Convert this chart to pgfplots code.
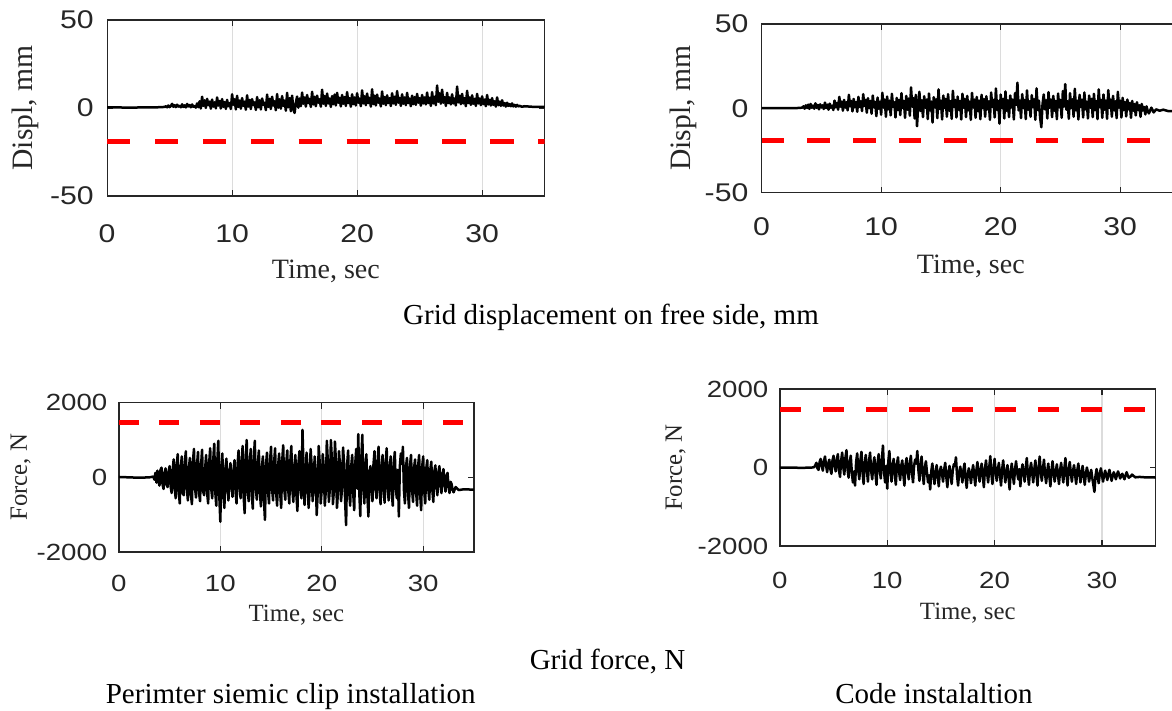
\documentclass[border=0pt]{standalone}
\usepackage{fontspec}
\setmainfont{Liberation Serif}
\newfontfamily\tickfont[FakeStretch=1.18]{Liberation Sans}
\usepackage{pgfplots}
\pgfplotsset{compat=1.18}
\definecolor{axgray}{HTML}{262626}
\definecolor{gridgray}{HTML}{DCDCDC}
\pgfplotsset{
  panel/.style={
    scale only axis, anchor=south west,
    xmin=0, xmax=35, xtick={0,10,20,30}, xticklabels={0,10,20,30},
    axis line style={axgray, line width=0.6pt},
    tick style={axgray, line width=0.6pt},
    major tick length=3pt, tick align=inside,
    xmajorgrids, grid style={gridgray, line width=0.6pt},
    xticklabel style={anchor=center, text=axgray},
    yticklabel style={anchor=east, inner sep=0pt, text=axgray},
    xlabel style={anchor=base, text=black!85},
    ylabel style={anchor=base, text=black!85},
    xlabel={Time, sec},
  },
  toptick/.style={tick label style={font=\tickfont\fontsize{12.8}{14}\selectfont},
    xlabel style={font=\fontsize{14}{16}\selectfont},
    ylabel style={font=\fontsize{14.8}{16}\selectfont}},
  bottick/.style={tick label style={font=\tickfont\fontsize{11.7}{13}\selectfont},
    label style={font=\fontsize{12.4}{14}\selectfont}},
  sig/.style={black, line width=1.25pt, line join=round},
  thr/.style={red, line width=2.5pt},
}
\begin{document}
\begin{tikzpicture}
% ---------- top left: displacement, perimeter clip ----------
\begin{axis}[panel, toptick, at={(53.55pt,-98pt)}, width=218.75pt, height=88pt,
  ymin=-50, ymax=50, ytick={-50,0,50}, yticklabels={-50,0,50}, ylabel={Displ, mm},
  xticklabel style={yshift=-18.65pt}, yticklabel style={xshift=-6.5pt},
  xlabel style={at={(axis description cs:0.5,-0.469)}},
  ylabel style={at={(axis description cs:-0.171,0.5)}}]
\addplot[sig] coordinates {
(0,0.3) (1,0.3) (2,0.2) (3,0.4) (4,0.4)
(4.6,0.6) (4.7,1.0) (4.8,0.4) (4.9,1.4) (5.0,0.5) (5.1,1.1) (5.2,2.4) (5.3,0.7) (5.4,1.6) (5.5,0.5) (5.6,1.9) (5.7,0.8) (5.8,1.3) (5.9,0.4)
(6.0,2.1) (6.1,0.6) (6.2,1.5) (6.3,0.3) (6.4,2.3) (6.5,0.9) (6.6,1.7) (6.7,0.4) (6.8,2.0) (6.9,0.7) (7.0,1.2) (7.1,0.2) (7.2,2.6) (7.3,0.5)
(7.4,3.8) (7.5,-0.3) (7.6,6.4) (7.7,1.2) (7.8,4.4) (7.9,0.0) (8.0,5.2) (8.1,1.6) (8.2,3.6) (8.3,-0.4) (8.4,4.8) (8.5,0.8) (8.6,3.2) (8.7,-0.2)
(8.8,6.0) (8.9,1.4) (9.0,4.0) (9.1,-0.3) (9.2,5.1) (9.3,0.6) (9.4,3.4) (9.5,-0.5) (9.6,4.6) (9.7,1.0) (9.8,2.8) (9.9,-0.6)
(10.0,7.8) (10.1,1.8) (10.2,5.0) (10.3,-0.8) (10.4,6.9) (10.5,0.6) (10.6,4.2) (10.7,-0.4) (10.8,5.6) (10.9,1.2) (11.0,3.6) (11.1,-1.0)
(11.2,7.2) (11.3,0.8) (11.4,4.6) (11.5,-0.6) (11.6,5.0) (11.7,1.6) (11.8,3.2) (11.9,-1.1) (12.0,6.2) (12.1,0.4) (12.2,4.4) (12.3,-0.8)
(12.4,5.4) (12.5,1.8) (12.6,3.0) (12.7,-1.2) (12.8,7.6) (12.9,0.6) (13.0,5.2) (13.1,-0.6) (13.2,6.4) (13.3,1.4) (13.4,3.8) (13.5,-1.3)
(13.6,7.9) (13.7,0.2) (13.8,5.0) (13.9,-0.4) (14.0,6.8) (14.1,1.2) (14.2,4.2) (14.3,-1.5) (14.4,8.6) (14.5,0.4) (14.6,5.6) (14.7,-1.8)
(14.8,7.0) (14.9,-0.6) (15.0,-2.8) (15.1,3.0) (15.2,6.5) (15.3,0.2) (15.4,5.4) (15.5,1.0) (15.6,8.8) (15.7,2.4) (15.8,6.0) (15.9,0.8)
(16.0,7.4) (16.1,2.8) (16.2,5.2) (16.3,0.6) (16.4,9.2) (16.5,2.0) (16.6,6.4) (16.7,1.0) (16.8,7.0) (16.9,3.0) (17.0,5.0) (17.1,0.8)
(17.2,10.4) (17.3,2.4) (17.4,6.8) (17.5,1.2) (17.6,8.2) (17.7,2.6) (17.8,5.4) (17.9,0.6) (18.0,6.8) (18.1,2.2) (18.2,7.6) (18.3,1.4)
(18.4,8.6) (18.5,3.0) (18.6,5.8) (18.7,0.9) (18.8,7.4) (18.9,2.4) (19.0,6.2) (19.1,1.2) (19.2,9.0) (19.3,2.8) (19.4,5.6) (19.5,0.7)
(19.6,7.8) (19.7,2.2) (19.8,6.0) (19.9,1.4) (20.0,8.4) (20.1,3.0) (20.2,5.4) (20.3,1.0) (20.4,10.0) (20.5,2.6) (20.6,6.6) (20.7,1.6)
(20.8,8.2) (20.9,2.8) (21.0,5.8) (21.1,0.8) (21.2,10.6) (21.3,2.2) (21.4,7.0) (21.5,1.4) (21.6,7.6) (21.7,3.0) (21.8,5.4) (21.9,0.9)
(22.0,9.4) (22.1,2.4) (22.2,6.2) (22.3,1.6) (22.4,7.2) (22.5,2.8) (22.6,5.6) (22.7,1.1) (22.8,8.4) (22.9,2.6) (23.0,6.4) (23.1,1.8)
(23.2,9.6) (23.3,3.0) (23.4,5.8) (23.5,1.2) (23.6,7.8) (23.7,2.4) (23.8,6.0) (23.9,1.6) (24.0,8.6) (24.1,2.8) (24.2,5.4) (24.3,1.0)
(24.4,7.0) (24.5,2.2) (24.6,6.2) (24.7,1.8) (24.8,8.0) (24.9,3.0) (25.0,5.6) (25.1,1.3) (25.2,7.4) (25.3,2.6) (25.4,6.0) (25.5,2.0)
(25.6,8.8) (25.7,2.8) (25.8,5.8) (25.9,1.2) (26.0,9.0) (26.1,2.6) (26.2,6.4) (26.3,1.6) (26.4,12.8) (26.5,3.6) (26.6,8.4) (26.7,2.4)
(26.8,10.4) (26.9,3.0) (27.0,6.2) (27.1,1.2) (27.2,8.6) (27.3,2.8) (27.4,6.0) (27.5,2.0) (27.6,7.8) (27.7,2.6) (27.8,5.4) (27.9,1.4)
(28.0,12.2) (28.1,3.2) (28.2,7.0) (28.3,2.2) (28.4,8.0) (28.5,2.6) (28.6,5.6) (28.7,1.0) (28.8,9.8) (28.9,2.8) (29.0,6.0) (29.1,1.8)
(29.2,7.2) (29.3,2.4) (29.4,5.2) (29.5,1.2) (29.6,8.0) (29.7,2.6) (29.8,5.4) (29.9,1.6) (30.0,6.6) (30.1,2.2) (30.2,4.8) (30.3,1.0)
(30.4,7.4) (30.5,2.0) (30.6,4.6) (30.7,1.4) (30.8,5.6) (30.9,1.8) (31.0,3.8) (31.1,0.8) (31.2,6.0) (31.3,1.6) (31.4,3.6) (31.5,1.2)
(31.6,4.4) (31.7,1.4) (31.8,2.8) (31.9,0.8) (32.0,3.0) (32.1,1.2) (32.2,2.2) (32.3,1.0) (32.4,2.6) (32.5,0.9) (32.6,1.8) (32.7,0.8)
(32.8,1.8) (32.9,0.9) (33.0,1.2) (33.2,0.7) (33.4,1.0) (34,0.7) (35,0.7)
};
\addplot[thr, dash pattern=on 11.6pt off 12.35pt] coordinates {(0,-19) (35,-19)};
\end{axis}
% ---------- top right: displacement, code ----------
\begin{axis}[panel, toptick, at={(380.8pt,-96.35pt)}, width=209.2pt, height=84.35pt,
  ymin=-50, ymax=50, ytick={-50,0,50}, yticklabels={-50,0,50}, ylabel={Displ, mm},
  xticklabel style={yshift=-17pt}, yticklabel style={xshift=-6.4pt},
  xlabel style={at={(axis description cs:0.5,-0.476)}},
  ylabel style={at={(axis description cs:-0.169,0.5)}}]
\addplot[sig] coordinates {
(0,0.2) (1,0.2) (2,0.1) (3,0.2) (3.4,0.4)
(3.5,1.2) (3.6,-0.2) (3.7,1.8) (3.8,0.2) (3.9,2.2) (4.0,-0.3) (4.1,2.6) (4.2,0.4) (4.3,1.6) (4.4,-0.2) (4.5,3.0) (4.6,0.3) (4.7,2.0)
(4.8,-0.6) (4.9,2.4) (5.0,0.5) (5.1,1.8) (5.2,-0.4) (5.3,3.4) (5.4,0.2) (5.5,2.2) (5.6,-0.8) (5.7,2.8) (5.8,0.4) (5.9,1.6) (6.0,-1.0)
(6.1,4.6) (6.2,0.6) (6.3,3.2) (6.4,-0.8) (6.5,6.8) (6.6,1.0) (6.7,4.0) (6.8,-1.4) (6.9,5.0) (7.0,0.4) (7.1,3.6) (7.2,-1.2) (7.3,8.0)
(7.4,1.2) (7.5,4.4) (7.6,-1.8) (7.7,5.6) (7.8,0.6) (7.9,3.8) (8.0,-2.0) (8.1,6.8) (8.2,0.8) (8.3,4.2) (8.4,-1.6) (8.5,8.4) (8.6,1.4)
(8.7,5.0) (8.8,-2.6) (8.9,6.0) (9.0,0.2) (9.1,4.4) (9.2,-3.2) (9.3,7.6) (9.4,0.6) (9.5,3.8) (9.6,-4.6) (9.7,6.4) (9.8,-0.2) (9.9,4.0)
(10.0,-3.8) (10.1,9.2) (10.2,0.4) (10.3,5.2) (10.4,-5.0) (10.5,7.0) (10.6,-0.6) (10.7,4.6) (10.8,-4.2) (10.9,8.6) (11.0,0.8) (11.1,3.6)
(11.2,-5.4) (11.3,6.2) (11.4,-1.0) (11.5,5.0) (11.6,-4.0) (11.7,9.0) (11.8,0.2) (11.9,4.4) (12.0,-5.6) (12.1,7.4) (12.2,-0.8) (12.3,5.8)
(12.4,-4.4) (12.5,12.4) (12.6,1.0) (12.7,6.0) (12.8,-6.0) (12.9,8.0) (13.0,-10.6) (13.1,2.0) (13.2,9.8) (13.3,-1.6) (13.4,4.8) (13.5,-5.2)
(13.6,7.2) (13.7,0.4) (13.8,5.2) (13.9,-6.4) (14.0,8.8) (14.1,-1.2) (14.2,4.0) (14.3,-8.4) (14.4,6.6) (14.5,0.6) (14.6,5.4) (14.7,-5.8)
(14.8,11.2) (14.9,-0.4) (15.0,4.6) (15.1,-6.6) (15.2,7.6) (15.3,0.2) (15.4,5.6) (15.5,-5.0) (15.6,8.4) (15.7,-1.4) (15.8,4.2) (15.9,-6.2)
(16.0,10.4) (16.1,0.8) (16.2,5.0) (16.3,-5.4) (16.4,7.0) (16.5,-0.8) (16.6,4.4) (16.7,-6.6) (16.8,8.6) (16.9,0.4) (17.0,5.6) (17.1,-5.2)
(17.2,7.4) (17.3,-1.2) (17.4,4.0) (17.5,-6.8) (17.6,9.2) (17.7,0.6) (17.8,5.2) (17.9,-5.6) (18.0,6.8) (18.1,-1.6) (18.2,4.6) (18.3,-6.4)
(18.4,8.0) (18.5,0.2) (18.6,5.4) (18.7,-5.0) (18.8,7.2) (18.9,-0.6) (19.0,4.2) (19.1,-6.8) (19.2,9.4) (19.3,0.8) (19.4,5.0) (19.5,-5.4)
(19.6,11.8) (19.7,-1.0) (19.8,4.4) (19.9,-9.0) (20.0,8.2) (20.1,0.4) (20.2,5.6) (20.3,-6.0) (20.4,10.0) (20.5,-1.4) (20.6,4.8) (20.7,-5.2)
(20.8,7.6) (20.9,0.6) (21.0,5.2) (21.1,-6.6) (21.2,9.0) (21.3,2.0) (21.4,15.2) (21.5,-1.2) (21.6,4.6) (21.7,-5.8) (21.8,8.4) (21.9,0.2)
(22.0,5.0) (22.1,-6.4) (22.2,10.6) (22.3,-0.8) (22.4,4.2) (22.5,-5.0) (22.6,7.8) (22.7,0.8) (22.8,5.4) (22.9,-6.8) (23.0,11.8) (23.1,-1.0)
(23.2,4.6) (23.3,-5.6) (23.4,-11.2) (23.5,2.4) (23.6,8.2) (23.7,-0.6) (23.8,4.8) (23.9,-6.0) (24.0,9.6) (24.1,0.4) (24.2,5.2) (24.3,-5.2)
(24.4,7.4) (24.5,-1.4) (24.6,4.4) (24.7,-6.4) (24.8,8.8) (24.9,0.6) (25.0,5.0) (25.1,-5.6) (25.2,10.2) (25.3,1.0) (25.4,14.4) (25.5,-0.8)
(25.6,4.2) (25.7,-6.2) (25.8,9.0) (25.9,0.2) (26.0,5.4) (26.1,-5.0) (26.2,11.6) (26.3,-1.2) (26.4,4.6) (26.5,-6.6) (26.6,8.0) (26.7,0.8)
(26.8,5.2) (26.9,-5.4) (27.0,9.4) (27.1,-0.6) (27.2,4.0) (27.3,-6.0) (27.4,7.6) (27.5,0.4) (27.6,5.6) (27.7,-5.2) (27.8,8.6) (27.9,-1.0)
(28.0,4.4) (28.1,-6.4) (28.2,11.2) (28.3,0.6) (28.4,5.0) (28.5,-5.6) (28.6,8.2) (28.7,-0.8) (28.8,4.6) (28.9,-6.2) (29.0,10.8) (29.1,0.2)
(29.2,5.2) (29.3,-5.0) (29.4,7.4) (29.5,-1.2) (29.6,4.2) (29.7,-5.8) (29.8,9.8) (29.9,0.4) (30.0,4.6) (30.1,-5.4) (30.2,6.2) (30.3,-1.0)
(30.4,3.8) (30.5,-4.8) (30.6,5.2) (30.7,-0.6) (30.8,3.2) (30.9,-5.6) (31.0,4.4) (31.1,-1.4) (31.2,2.6) (31.3,-4.2) (31.4,3.6) (31.5,-1.0)
(31.6,1.8) (31.7,-5.0) (31.8,2.6) (31.9,-1.2) (32.0,0.8) (32.1,-3.6) (32.2,1.2) (32.3,-1.6) (32.4,-3.0) (32.6,0.4) (32.8,-2.4) (33.0,-0.6)
(33.3,-1.4) (33.6,-0.8) (34,-1.6) (35,-1.8)
};
\addplot[thr, dash pattern=on 11.3pt off 11.55pt] coordinates {(0,-19) (35,-19)};
\end{axis}
% ---------- bottom left: force, perimeter clip ----------
\begin{axis}[panel, bottick, at={(59.45pt,-276pt)}, width=177.5pt, height=74.65pt,
  ymin=-2000, ymax=2000, ytick={-2000,0,2000}, yticklabels={-2000,0,2000}, ylabel={Force, N},
  xticklabel style={yshift=-15.65pt}, yticklabel style={xshift=-5.6pt},
  xlabel style={at={(axis description cs:0.5,-0.467)}},
  ylabel style={at={(axis description cs:-0.259,0.5)}}]
\addplot[sig] coordinates {
(0,10) (1,0) (2,-10) (3,0) (3.4,20)
(3.5,-60) (3.6,120) (3.7,-140) (3.8,180) (3.9,-100) (4.0,-220) (4.1,200) (4.2,260) (4.3,-180) (4.4,-310) (4.5,120) (4.6,240) (4.7,-200)
(4.8,-260) (4.9,160) (5.0,300) (5.1,-240) (5.2,-420) (5.3,200) (5.4,480) (5.5,-300) (5.6,-560) (5.7,340) (5.8,620) (5.9,-380) (6.0,-700)
(6.1,260) (6.2,560) (6.3,-420) (6.4,-480) (6.5,380) (6.6,700) (6.7,-300) (6.8,-620) (6.9,240) (7.0,520) (7.1,-460) (7.2,-720) (7.3,420)
(7.4,760) (7.5,-260) (7.6,-540) (7.7,320) (7.8,680) (7.9,-400) (8.0,-640) (8.1,300) (8.2,740) (8.3,-360) (8.4,-480) (8.5,220) (8.6,600)
(8.7,-420) (8.8,-700) (8.9,380) (9.0,780) (9.1,-300) (9.2,-560) (9.3,460) (9.4,900) (9.5,-380) (9.6,-760) (9.7,420) (9.8,980) (9.9,-500)
(10.0,-1190) (10.1,300) (10.2,640) (10.3,-460) (10.4,-820) (10.5,240) (10.6,500) (10.7,-300) (10.8,-620) (10.9,180) (11.0,380) (11.1,-260)
(11.2,-520) (11.3,200) (11.4,460) (11.5,-380) (11.6,-700) (11.7,340) (11.8,720) (11.9,-280) (12.0,-560) (12.1,420) (12.2,840) (12.3,-520)
(12.4,-960) (12.5,460) (12.6,1000) (12.7,-340) (12.8,-640) (12.9,380) (13.0,760) (13.1,-420) (13.2,-840) (13.3,500) (13.4,980) (13.5,-300)
(13.6,-600) (13.7,360) (13.8,720) (13.9,-400) (14.0,-780) (14.1,280) (14.2,560) (14.3,-600) (14.4,-1140) (14.5,320) (14.6,660) (14.7,-360)
(14.8,-700) (14.9,420) (15.0,820) (15.1,-300) (15.2,-620) (15.3,380) (15.4,780) (15.5,-400) (15.6,-760) (15.7,320) (15.8,640) (15.9,-420)
(16.0,-820) (16.1,440) (16.2,860) (16.3,-300) (16.4,-600) (16.5,360) (16.6,720) (16.7,-360) (16.8,-700) (16.9,420) (17.0,840) (17.1,-320)
(17.2,-660) (17.3,300) (17.4,600) (17.5,-460) (17.6,-900) (17.7,360) (17.8,700) (17.9,-280) (18.0,-560) (18.1,1270) (18.2,300) (18.3,-740)
(18.4,-320) (18.5,660) (18.6,300) (18.7,-820) (18.8,-380) (18.9,760) (19.0,340) (19.1,-640) (19.2,-300) (19.3,560) (19.4,200) (19.5,-1010)
(19.6,-420) (19.7,840) (19.8,380) (19.9,-700) (20.0,-320) (20.1,620) (20.2,260) (20.3,-760) (20.4,-360) (20.5,980) (20.6,420) (20.7,-660)
(20.8,-300) (20.9,1000) (21.0,460) (21.1,-720) (21.2,-340) (21.3,960) (21.4,400) (21.5,-820) (21.6,-380) (21.7,700) (21.8,300) (21.9,-640)
(22.0,-280) (22.1,800) (22.2,380) (22.3,-600) (22.4,-1280) (22.5,320) (22.6,720) (22.7,-360) (22.8,-760) (22.9,280) (23.0,600) (23.1,-420)
(23.2,-880) (23.3,360) (23.4,760) (23.5,-300) (23.6,1160) (23.7,-400) (23.8,-1040) (23.9,500) (24.0,1140) (24.1,-320) (24.2,-700) (24.3,300)
(24.4,620) (24.5,-500) (24.6,-1050) (24.7,140) (24.8,300) (24.9,-320) (25.0,-640) (25.1,340) (25.2,700) (25.3,-280) (25.4,-560) (25.5,400)
(25.6,820) (25.7,-360) (25.8,-720) (25.9,300) (26.0,600) (26.1,-340) (26.2,-680) (26.3,380) (26.4,780) (26.5,-300) (26.6,-620) (26.7,260)
(26.8,560) (26.9,-380) (27.0,-760) (27.1,340) (27.2,680) (27.3,-280) (27.4,-560) (27.5,200) (27.6,-1050) (27.7,300) (27.8,640) (27.9,360)
(28.0,820) (28.1,-340) (28.2,-700) (28.3,260) (28.4,520) (28.5,-400) (28.6,-820) (28.7,300) (28.8,600) (28.9,-320) (29.0,-660) (29.1,240)
(29.2,480) (29.3,-380) (29.4,-760) (29.5,300) (29.6,600) (29.7,-440) (29.8,-880) (29.9,280) (30.0,560) (30.1,-340) (30.2,-700) (30.3,220)
(30.4,460) (30.5,-300) (30.6,-600) (30.7,200) (30.8,420) (30.9,-320) (31.0,-660) (31.1,160) (31.2,320) (31.3,-240) (31.4,-480) (31.5,140)
(31.6,300) (31.7,-220) (31.8,-420) (31.9,100) (32.0,220) (32.1,-200) (32.2,-380) (32.3,40) (32.4,120) (32.5,-260) (32.6,-420) (32.7,-120)
(32.8,-180) (32.9,-340) (33.0,-400) (33.2,-260) (33.5,-340) (34,-320) (35,-330)
};
\addplot[thr, dash pattern=on 9.8pt off 10.45pt] coordinates {(0,1475) (35,1475)};
\end{axis}
% ---------- bottom right: force, code ----------
\begin{axis}[panel, bottick, at={(389.95pt,-273pt)}, width=187.85pt, height=78.5pt,
  ymin=-2000, ymax=2000, ytick={-2000,0,2000}, yticklabels={-2000,0,2000}, ylabel={Force, N},
  xticklabel style={yshift=-17pt}, yticklabel style={xshift=-5.6pt},
  xlabel style={at={(axis description cs:0.5,-0.467)}},
  ylabel style={at={(axis description cs:-0.2606,0.5)}}]
\addplot[sig] coordinates {
(0,0) (1,0) (2,-10) (3,0) (3.2,10)
(3.3,60) (3.4,120) (3.5,-20) (3.6,-60) (3.7,140) (3.8,220) (3.9,40) (4.0,-80) (4.1,160) (4.2,280) (4.3,60) (4.4,-120) (4.5,100) (4.6,200)
(4.7,-40) (4.8,-160) (4.9,180) (5.0,300) (5.1,40) (5.2,-100) (5.3,200) (5.4,340) (5.5,-60) (5.6,-240) (5.7,160) (5.8,380) (5.9,20)
(6.0,-180) (6.1,240) (6.2,440) (6.3,-40) (6.4,-260) (6.5,120) (6.6,300) (6.7,-120) (6.8,-380) (6.9,-100) (7.0,-460) (7.1,140) (7.2,360)
(7.3,-80) (7.4,-300) (7.5,180) (7.6,400) (7.7,-120) (7.8,-420) (7.9,100) (8.0,320) (8.1,-60) (8.2,-360) (8.3,160) (8.4,380) (8.5,-80)
(8.6,-300) (8.7,80) (8.8,260) (8.9,-140) (9.0,-440) (9.1,120) (9.2,340) (9.3,-60) (9.4,-280) (9.5,200) (9.6,560) (9.7,-100) (9.8,-380)
(9.9,40) (10.0,-540) (10.1,160) (10.2,420) (10.3,-100) (10.4,-360) (10.5,60) (10.6,220) (10.7,-160) (10.8,-440) (10.9,80) (11.0,260)
(11.1,-100) (11.2,-320) (11.3,40) (11.4,180) (11.5,-180) (11.6,-460) (11.7,60) (11.8,240) (11.9,-80) (12.0,-300) (12.1,100) (12.2,300)
(12.3,-120) (12.4,-380) (12.5,40) (12.6,200) (12.7,100) (12.8,420) (12.9,-60) (13.0,-340) (13.1,60) (13.2,280) (13.3,-140) (13.4,-420)
(13.5,-20) (13.6,160) (13.7,-120) (13.8,-380) (13.9,-200) (14.0,-560) (14.1,-100) (14.2,100) (14.3,-180) (14.4,-420) (14.5,-140) (14.6,60)
(14.7,-200) (14.8,-480) (14.9,-100) (15.0,20) (15.1,-160) (15.2,-360) (15.3,-60) (15.4,120) (15.5,-240) (15.6,-500) (15.7,-120) (15.8,40)
(15.9,-180) (16.0,-420) (16.1,-80) (16.2,80) (16.3,40) (16.4,260) (16.5,-200) (16.6,-460) (16.7,-120) (16.8,20) (16.9,-160) (17.0,-380)
(17.1,-60) (17.2,100) (17.3,-260) (17.4,-520) (17.5,-180) (17.6,-20) (17.7,-160) (17.8,-400) (17.9,-120) (18.0,60) (18.1,-200) (18.2,-460)
(18.3,-80) (18.4,140) (18.5,-140) (18.6,-360) (18.7,-60) (18.8,100) (18.9,-220) (19.0,-500) (19.1,-40) (19.2,180) (19.3,-140) (19.4,-380)
(19.5,0) (19.6,290) (19.7,-160) (19.8,-420) (19.9,-40) (20.0,220) (20.1,-100) (20.2,-340) (20.3,-60) (20.4,120) (20.5,-200) (20.6,-460)
(20.7,-60) (20.8,180) (20.9,-140) (21.0,-380) (21.1,-100) (21.2,60) (21.3,-240) (21.4,-560) (21.5,-120) (21.6,100) (21.7,-180) (21.8,-420)
(21.9,-60) (22.0,160) (22.1,-120) (22.2,-300) (22.3,-40) (22.4,-480) (22.5,-100) (22.6,80) (22.7,-140) (22.8,-360) (22.9,-20) (23.0,240)
(23.1,-160) (23.2,-440) (23.3,-60) (23.4,120) (23.5,-140) (23.6,-380) (23.7,-40) (23.8,180) (23.9,-180) (24.0,-460) (24.1,-20) (24.2,280)
(24.3,-120) (24.4,-340) (24.5,-40) (24.6,200) (24.7,-160) (24.8,-400) (24.9,-100) (25.0,100) (25.1,-220) (25.2,-480) (25.3,-80) (25.4,160)
(25.5,-140) (25.6,-360) (25.7,-100) (25.8,80) (25.9,-180) (26.0,-420) (26.1,-80) (26.2,120) (26.3,-160) (26.4,-380) (26.5,-20) (26.6,240)
(26.7,-180) (26.8,-460) (26.9,-60) (27.0,140) (27.1,-120) (27.2,-360) (27.3,-100) (27.4,60) (27.5,-180) (27.6,-420) (27.7,-80) (27.8,100)
(27.9,-160) (28.0,-380) (28.1,-140) (28.2,40) (28.3,-200) (28.4,-440) (28.5,-160) (28.6,0) (28.7,-140) (28.8,-360) (28.9,-200) (29.0,-60)
(29.1,-260) (29.2,-440) (29.3,-620) (29.4,-220) (29.5,-40) (29.6,-220) (29.7,-400) (29.8,-160) (29.9,-20) (30.0,-180) (30.1,-360) (30.2,-200)
(30.3,-80) (30.4,-200) (30.5,-320) (30.6,-160) (30.7,-60) (30.8,-200) (30.9,-340) (31.0,-220) (31.1,-120) (31.2,-200) (31.3,-300) (31.4,-180)
(31.5,-100) (31.6,-180) (31.7,-280) (31.8,-200) (31.9,-160) (32.0,-240) (32.1,-300) (32.2,-200) (32.3,-120) (32.4,-200) (32.5,-260) (32.7,-220)
(32.8,-180) (33.1,-250) (33.5,-240) (34,-250) (35,-255)
};
\addplot[thr, dash pattern=on 10.6pt off 10.9pt] coordinates {(0,1480) (35,1480)};
\end{axis}
% ---------- captions ----------
\node[anchor=base, font=\fontsize{14.5}{16}\selectfont] at (305.5pt,-162pt) {Grid displacement on free side, mm};
\node[anchor=base, font=\fontsize{14.5}{16}\selectfont] at (303.75pt,-334.5pt) {Grid force, N};
\node[anchor=base, font=\fontsize{14.5}{16}\selectfont] at (145.35pt,-351.75pt) {Perimter siemic clip installation};
\node[anchor=base, font=\fontsize{14.5}{16}\selectfont] at (467pt,-351.75pt) {Code instalaltion};
\pgfresetboundingbox
\useasboundingbox (0,0) rectangle (586pt,-355.5pt);
\end{tikzpicture}
\end{document}
